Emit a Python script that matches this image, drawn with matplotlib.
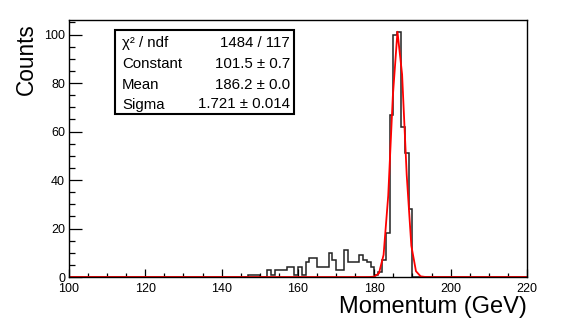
import numpy as np
import matplotlib
matplotlib.use("Agg")
import matplotlib.pyplot as plt
from matplotlib.ticker import MultipleLocator
from matplotlib.patches import Rectangle

# ---- data -------------------------------------------------------------
bin_lo, bin_hi, n_bins = 100, 220, 120
# non-zero bin contents (bin lower edge -> counts), all other bins are zero
tail_edges = [147, 148, 149, 150, 151, 152, 153, 154, 155, 156, 157, 158, 159, 160,
              161, 162, 163, 164, 165, 166, 167, 168, 169, 170, 171, 172, 173, 174,
              175, 176, 177, 178, 179, 180, 181, 182, 183, 184, 185, 186, 187, 188, 189]
tail_counts = [1, 1, 1, 0, 0, 3, 1, 3, 3, 3, 4, 4, 1, 4,
               1, 6, 8, 8, 4, 4, 4, 10, 7, 3, 3, 11, 6, 6,
               6, 9, 7, 6, 4, 1, 2, 7, 18, 67, 100, 101, 62, 51, 28]

fit_constant, fit_mean, fit_sigma = 101.5, 186.2, 1.721
stat_names = ["\u03c7\u00b2 / ndf", "Constant", "Mean", "Sigma"]
stat_values = ["1484 / 117", "101.5 \u00b1 0.7", "186.2 \u00b1 0.0", "1.721 \u00b1 0.014"]

x_label = "Momentum (GeV)"
y_label = "Counts"

# ---- build histogram --------------------------------------------------
edges = np.linspace(bin_lo, bin_hi, n_bins + 1)
counts = np.zeros(n_bins)
for e, c in zip(tail_edges, tail_counts):
    counts[int(e - bin_lo)] = c

xf = np.linspace(bin_lo, bin_hi, 100)
yf = fit_constant * np.exp(-0.5 * ((xf - fit_mean) / fit_sigma) ** 2)

# ---- figure -----------------------------------------------------------
plt.rcParams['font.family'] = ['Liberation Sans', 'DejaVu Sans']
W, H = 573, 323
fig = plt.figure(figsize=(W / 100, H / 100), dpi=100)
L, R, T, B = 69, 527, 20, 277
ax = fig.add_axes([L / W, 1 - B / H, (R - L) / W, (B - T) / H])

ax.stairs(counts, edges, color='#222222', lw=1.1, baseline=None)
ax.plot(xf, yf, color='#ff0000', lw=1.3)

ax.set_xlim(bin_lo, bin_hi)
ax.set_ylim(0, 106)

for s in ax.spines.values():
    s.set_linewidth(1.0)
    s.set_color('black')

ax.xaxis.set_major_locator(MultipleLocator(20))
ax.xaxis.set_minor_locator(MultipleLocator(5))
ax.yaxis.set_major_locator(MultipleLocator(20))
ax.yaxis.set_minor_locator(MultipleLocator(5))
ax.tick_params(axis='x', which='major', direction='in', length=5.5, width=0.9,
               labelsize=9, pad=4.2, top=False)
ax.tick_params(axis='x', which='minor', direction='in', length=2.8, width=0.9, top=False)
ax.tick_params(axis='y', which='major', direction='in', length=9.5, width=0.9,
               labelsize=9, pad=2.8, right=False)
ax.tick_params(axis='y', which='minor', direction='in', length=4.3, width=0.9, right=False)

fig.text(R / W, 1 - 313 / H, x_label, ha='right', va='baseline', fontsize=17)
fig.text(33 / W, 1 - 23 / H, y_label, ha='right', va='baseline', fontsize=16.3,
         rotation=90, rotation_mode='anchor')

# stats box
bx0, bx1, by0, by1 = 115, 294, 30, 114
fig.patches.append(Rectangle((bx0 / W, 1 - by1 / H), (bx1 - bx0) / W, (by1 - by0) / H,
                             transform=fig.transFigure, fill=True, facecolor='white',
                             edgecolor='black', lw=1.5, zorder=5))
rows_base = [47, 68, 89, 108.5]
for name, val, yy in zip(stat_names, stat_values, rows_base):
    fig.text(122 / W, 1 - yy / H, name, ha='left', va='baseline', fontsize=10.8, zorder=6)
    fig.text(290 / W, 1 - yy / H, val, ha='right', va='baseline', fontsize=10.8, zorder=6)

fig.savefig("out.png", dpi=100)
